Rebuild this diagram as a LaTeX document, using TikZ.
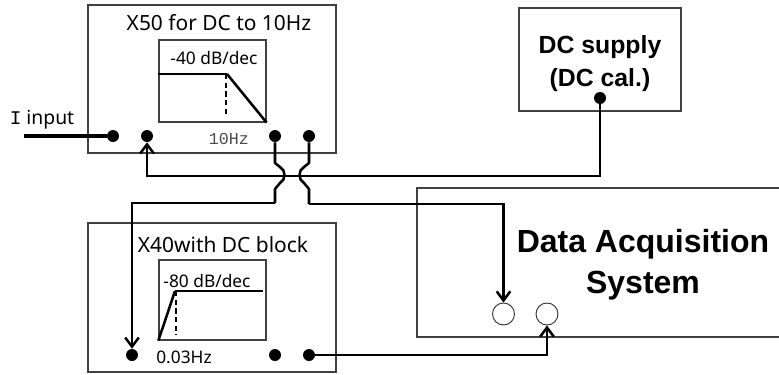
\documentclass[tikz,border=0pt]{standalone}
\usepackage{fontspec}
\setmainfont{Noto Sans}
\newfontfamily\tickfont{Liberation Mono}
\newfontfamily\headfont{Liberation Sans}
\usetikzlibrary{arrows.meta,positioning,calc}

\begin{document}
\begin{tikzpicture}[
    x=0.75pt, y=-0.75pt,
    unit/.style={rectangle, draw=black!75, line width=1pt, inner sep=0pt},
    plot/.style={unit},
    term/.style={circle, fill=black, inner sep=0pt, minimum size=9pt},
    port/.style={circle, draw=black!80, fill=white, line width=0.7pt, inner sep=0pt, minimum size=16.5pt},
    wire/.style={line width=1.9pt},
    arr/.style={wire, -{Straight Barb[length=2.4mm, width=3.6mm]}},
    jump/.style={wire, line join=round},
    lbl/.style={inner sep=0pt, font=\fontsize{15.7}{18}\selectfont},
    slope/.style={lbl, font=\fontsize{13}{15}\selectfont},
    curve/.style={line width=1.2pt},
    corner/.style={line width=0.8pt, dash pattern=on 4pt off 2.5pt},
  ]
    \useasboundingbox (0,0) rectangle (779,375);

    % Boxes
    \node[unit, minimum width=186pt, minimum height=111pt] (lowpass) at (212,79) {};
    \node[unit, minimum width=186pt, minimum height=111.75pt] (dcblock) at (212,297.5) {};
    \node[unit, minimum width=121.5pt, minimum height=77.25pt] (supply) at (600,59.5) {};
    \node[unit, minimum width=300pt, minimum height=111.75pt] (daq) at (617,262.5) {};
    \node[plot, minimum width=80.25pt, minimum height=61.5pt] (lpplot) at (212.5,81) {};
    \node[plot, minimum width=80.25pt, minimum height=60pt] (dcplot) at (212.5,300) {};

    % Texts
    \node[lbl] (lptitle) at (219,23) {X50 for DC to 10Hz};
    \node[lbl] (dctitle) at (223,245) {X40with DC block};
    \node[slope] (lpslope) at (214,58) {-40 dB/dec};
    \node[slope] (dcslope) at (207,281) {-80 dB/dec};
    \node[lbl, font=\fontsize{12.5}{15}\selectfont\tickfont, text=black!70] (lpfreq) at (229,139) {10Hz};
    \node[slope] (dcfreq) at (184,357) {0.03Hz};
    \node[lbl, font=\fontsize{14.5}{17}\selectfont] (inlabel) at (42,120) {{\tickfont I} input};
    \node[lbl, align=center, font=\fontsize{18.6}{24.75}\selectfont\headfont\bfseries] (supplytext) at (600,64) {DC supply\\(DC cal.)};
    \node[lbl, align=center, font=\fontsize{24}{30.75}\selectfont\headfont\bfseries] (daqtext) at (643,265) {Data Acquisition\\System};

    % Terminals
    \node[term] (inA) at (113,136) {};
    \node[term] (inB) at (147,136) {};
    \node[term] (outA) at (275,136) {};
    \node[term] (outB) at (309,136) {};
    \node[term] (blockA) at (132,355) {};
    \node[term] (blockB) at (275,355) {};
    \node[term] (blockC) at (309,355) {};
    \node[term] (supplyout) at (600,98) {};
    \node[port] (portA) at (503.5,314) {};
    \node[port] (portB) at (547,314) {};
    \coordinate (infree) at (24,136);

    % Curves
    \draw[curve] (lpplot.west |- 0,74) -- (227,74);
    \draw[wire] (227,74) -- (lpplot.south east);
    \draw[corner] (226,74) -- (226,117);
    \draw[curve] (175,291) -- (263,291);
    \draw[wire] (dcplot.south west) -- (175,291);
    \draw[corner] (176,291) -- (176,335);

    % Wires
    \draw[line width=3pt] (infree) -- (inA);
    \draw[arr] (supplyout) |- ($(inB)+(0,40)$) -- (inB);
    \draw[jump] (outA) -- ++(0,27) -- ++(5,4) .. controls +(6,3) and +(6,-3) .. ++(0,16) -- ++(-5,6) -- ++(0,14) coordinate (elbowA);
    \draw[arr] (elbowA) -| (blockA);
    \draw[jump] (outB) -- ++(0,27) -- ++(-5,4) .. controls +(-6,3) and +(-6,-3) .. ++(0,16) -- ++(5,6) -- ++(0,15) coordinate (elbowB);
    \draw[arr] (elbowB) -| (portA);
    \draw[arr] (blockC) -| (portB);
\end{tikzpicture}
\end{document}
